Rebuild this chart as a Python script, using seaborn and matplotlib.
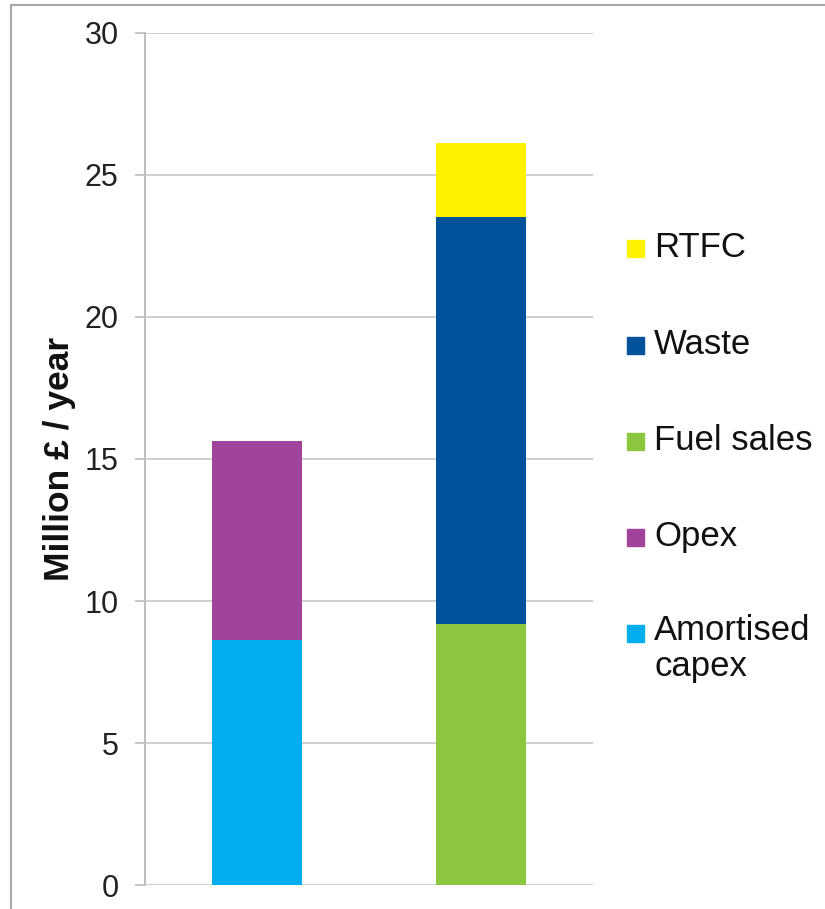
import matplotlib
matplotlib.use("Agg")
import matplotlib.pyplot as plt
from matplotlib.lines import Line2D
from matplotlib.patches import Rectangle
import seaborn as sns
import pandas as pd

# Annual cost vs. revenue, million GBP per year
bars = ["Costs", "Revenues"]
components = ["Amortised capex", "Opex", "Fuel sales", "Waste", "RTFC"]
component_bar = ["Costs", "Costs", "Revenues", "Revenues", "Revenues"]
values = [8.63, 7.0, 9.2, 14.33, 2.59]
colors = ["#00AEEF", "#A1439A", "#8CC63F", "#00529B", "#FFF200"]
legend_labels = ["Amortised\ncapex", "Opex", "Fuel sales", "Waste", "RTFC"]
y_ticks = [0, 5, 10, 15, 20, 25, 30]

df = pd.DataFrame({"bar": component_bar, "component": components,
                   "value": values, "color": colors})
df["top"] = df.groupby("bar")["value"].cumsum()

sns.set_theme(style="white")
plt.rcParams["font.family"] = ["Liberation Sans", "DejaVu Sans"]

fig = plt.figure(figsize=(8.25, 9.09), dpi=100)
ax = fig.add_axes([0.1758, 0.0264, 0.7188 - 0.1758, 0.9637 - 0.0264])

# stacked bars: draw cumulative tops from tallest down so lower segments overlay
for _, row in df.sort_values("top", ascending=False).iterrows():
    sns.barplot(x=[row["bar"]], y=[row["top"]], order=bars, color=row["color"],
                width=0.4, saturation=1, linewidth=0, ax=ax, zorder=3)

ax.set_xlim(-0.5, 1.5)
ax.set_ylim(0, 30)
ax.set_yticks(y_ticks)
ax.set_yticklabels([str(t) for t in y_ticks], fontsize=22, color="#222222")
ax.set_xticks([])
ax.set_xlabel("")
ax.set_ylabel("Million £ / year", fontsize=25.5, fontweight="bold",
              color="#111111", labelpad=6)
ax.yaxis.grid(True, color="#CFCFCF", linewidth=1.4, zorder=0)
ax.set_axisbelow(True)
ax.tick_params(axis="y", length=7, width=1.2, color="#BDBDBD", pad=12, left=True)
for side in ["top", "right", "bottom"]:
    ax.spines[side].set_visible(False)
ax.spines["left"].set_color("#BDBDBD")
ax.spines["left"].set_linewidth(1.4)

# legend, listed top-down in reverse stacking order
legend_y = [0.728, 0.621, 0.515, 0.410, 0.304]
for lab, col, yy in zip(legend_labels[::-1], colors[::-1], legend_y):
    fig.patches.append(Rectangle((0.760, yy - 0.0105), 0.021, 0.019,
                                 transform=fig.transFigure, color=col))
    if "\n" in lab:
        fig.text(0.793, yy + 0.0205, lab, fontsize=25, color="#111111",
                 va="top", ha="left", linespacing=1.12)
    else:
        fig.text(0.793, yy, lab, fontsize=25, color="#111111",
                 va="center", ha="left")

# thin frame along top and left edges
fig.add_artist(Line2D([0.013, 1.0], [0.9945, 0.9945], transform=fig.transFigure,
                      color="#A8A8A8", linewidth=1.5))
fig.add_artist(Line2D([0.013, 0.013], [0.0, 0.9945], transform=fig.transFigure,
                      color="#A8A8A8", linewidth=1.5))

fig.savefig("out.png", dpi=100, facecolor="white")
